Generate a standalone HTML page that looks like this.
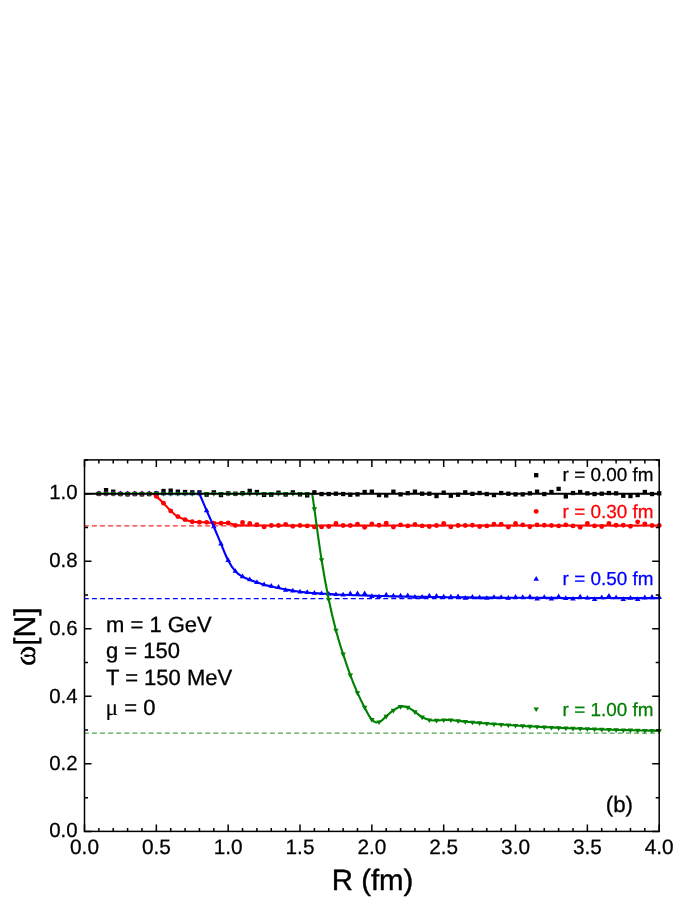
<!DOCTYPE html>
<html><head><meta charset="utf-8"><title>chart</title>
<style>html,body{margin:0;padding:0;background:#fff;}body{width:695px;height:899px;position:relative;overflow:hidden;font-family:"Liberation Sans",sans-serif;}</style></head>
<body>
<svg width="695" height="899" viewBox="0 0 695 899" style="position:absolute;left:0;top:0;will-change:transform" text-rendering="geometricPrecision">
<rect x="0" y="0" width="695" height="899" fill="#fff"/>
<line x1="84.50" y1="525.89" x2="659.20" y2="525.89" stroke="#ff0000" stroke-width="1.3" stroke-dasharray="4.9 3.19" stroke-dashoffset="0.6" stroke-opacity="0.85"/>
<line x1="84.50" y1="598.54" x2="659.20" y2="598.54" stroke="#0000ff" stroke-width="1.3" stroke-dasharray="4.9 3.19" stroke-dashoffset="0.6" stroke-opacity="1.00"/>
<line x1="84.50" y1="733.11" x2="659.20" y2="733.11" stroke="#008000" stroke-width="1.3" stroke-dasharray="4.9 3.19" stroke-dashoffset="0.6" stroke-opacity="0.70"/>
<rect x="96.72" y="491.55" width="4.30" height="4.30" fill="#000"/>
<rect x="103.90" y="488.01" width="4.30" height="4.30" fill="#000"/>
<rect x="111.08" y="489.53" width="4.30" height="4.30" fill="#000"/>
<rect x="118.27" y="491.89" width="4.30" height="4.30" fill="#000"/>
<rect x="125.45" y="492.22" width="4.30" height="4.30" fill="#000"/>
<rect x="132.64" y="491.89" width="4.30" height="4.30" fill="#000"/>
<rect x="139.82" y="492.22" width="4.30" height="4.30" fill="#000"/>
<rect x="147.00" y="491.89" width="4.30" height="4.30" fill="#000"/>
<rect x="154.19" y="491.21" width="4.30" height="4.30" fill="#000"/>
<rect x="161.37" y="488.85" width="4.30" height="4.30" fill="#000"/>
<rect x="168.55" y="488.52" width="4.30" height="4.30" fill="#000"/>
<rect x="175.74" y="489.53" width="4.30" height="4.30" fill="#000"/>
<rect x="182.92" y="489.86" width="4.30" height="4.30" fill="#000"/>
<rect x="190.11" y="490.20" width="4.30" height="4.30" fill="#000"/>
<rect x="197.29" y="490.20" width="4.30" height="4.30" fill="#000"/>
<rect x="204.47" y="492.56" width="4.30" height="4.30" fill="#000"/>
<rect x="211.66" y="490.20" width="4.30" height="4.30" fill="#000"/>
<rect x="218.84" y="492.90" width="4.30" height="4.30" fill="#000"/>
<rect x="226.03" y="491.21" width="4.30" height="4.30" fill="#000"/>
<rect x="233.21" y="491.55" width="4.30" height="4.30" fill="#000"/>
<rect x="240.39" y="491.04" width="4.30" height="4.30" fill="#000"/>
<rect x="247.58" y="488.75" width="4.30" height="4.30" fill="#000"/>
<rect x="254.76" y="489.86" width="4.30" height="4.30" fill="#000"/>
<rect x="261.94" y="492.76" width="4.30" height="4.30" fill="#000"/>
<rect x="269.13" y="492.56" width="4.30" height="4.30" fill="#000"/>
<rect x="276.31" y="490.54" width="4.30" height="4.30" fill="#000"/>
<rect x="283.50" y="492.39" width="4.30" height="4.30" fill="#000"/>
<rect x="290.68" y="490.20" width="4.30" height="4.30" fill="#000"/>
<rect x="297.86" y="492.22" width="4.30" height="4.30" fill="#000"/>
<rect x="305.05" y="493.24" width="4.30" height="4.30" fill="#000"/>
<rect x="312.23" y="490.20" width="4.30" height="4.30" fill="#000"/>
<rect x="319.41" y="491.89" width="4.30" height="4.30" fill="#000"/>
<rect x="326.60" y="491.89" width="4.30" height="4.30" fill="#000"/>
<rect x="333.78" y="491.55" width="4.30" height="4.30" fill="#000"/>
<rect x="340.97" y="491.89" width="4.30" height="4.30" fill="#000"/>
<rect x="348.15" y="492.56" width="4.30" height="4.30" fill="#000"/>
<rect x="355.33" y="492.22" width="4.30" height="4.30" fill="#000"/>
<rect x="362.52" y="489.86" width="4.30" height="4.30" fill="#000"/>
<rect x="369.70" y="489.53" width="4.30" height="4.30" fill="#000"/>
<rect x="376.88" y="492.90" width="4.30" height="4.30" fill="#000"/>
<rect x="384.07" y="493.24" width="4.30" height="4.30" fill="#000"/>
<rect x="391.25" y="489.53" width="4.30" height="4.30" fill="#000"/>
<rect x="398.44" y="492.22" width="4.30" height="4.30" fill="#000"/>
<rect x="405.62" y="491.04" width="4.30" height="4.30" fill="#000"/>
<rect x="412.80" y="489.53" width="4.30" height="4.30" fill="#000"/>
<rect x="419.99" y="491.55" width="4.30" height="4.30" fill="#000"/>
<rect x="427.17" y="491.55" width="4.30" height="4.30" fill="#000"/>
<rect x="434.35" y="493.91" width="4.30" height="4.30" fill="#000"/>
<rect x="441.54" y="490.54" width="4.30" height="4.30" fill="#000"/>
<rect x="448.72" y="493.57" width="4.30" height="4.30" fill="#000"/>
<rect x="455.91" y="492.56" width="4.30" height="4.30" fill="#000"/>
<rect x="463.09" y="490.20" width="4.30" height="4.30" fill="#000"/>
<rect x="470.27" y="491.72" width="4.30" height="4.30" fill="#000"/>
<rect x="477.46" y="490.88" width="4.30" height="4.30" fill="#000"/>
<rect x="484.64" y="491.89" width="4.30" height="4.30" fill="#000"/>
<rect x="491.82" y="492.90" width="4.30" height="4.30" fill="#000"/>
<rect x="499.01" y="490.88" width="4.30" height="4.30" fill="#000"/>
<rect x="506.19" y="491.55" width="4.30" height="4.30" fill="#000"/>
<rect x="513.38" y="492.22" width="4.30" height="4.30" fill="#000"/>
<rect x="520.56" y="492.22" width="4.30" height="4.30" fill="#000"/>
<rect x="527.74" y="491.21" width="4.30" height="4.30" fill="#000"/>
<rect x="534.93" y="489.53" width="4.30" height="4.30" fill="#000"/>
<rect x="542.11" y="491.89" width="4.30" height="4.30" fill="#000"/>
<rect x="549.29" y="489.86" width="4.30" height="4.30" fill="#000"/>
<rect x="556.48" y="486.73" width="4.30" height="4.30" fill="#000"/>
<rect x="563.66" y="494.25" width="4.30" height="4.30" fill="#000"/>
<rect x="570.85" y="490.88" width="4.30" height="4.30" fill="#000"/>
<rect x="578.03" y="489.86" width="4.30" height="4.30" fill="#000"/>
<rect x="585.21" y="491.21" width="4.30" height="4.30" fill="#000"/>
<rect x="592.40" y="491.89" width="4.30" height="4.30" fill="#000"/>
<rect x="599.58" y="491.55" width="4.30" height="4.30" fill="#000"/>
<rect x="606.76" y="490.88" width="4.30" height="4.30" fill="#000"/>
<rect x="613.95" y="491.21" width="4.30" height="4.30" fill="#000"/>
<rect x="621.13" y="493.57" width="4.30" height="4.30" fill="#000"/>
<rect x="628.32" y="493.91" width="4.30" height="4.30" fill="#000"/>
<rect x="635.50" y="492.90" width="4.30" height="4.30" fill="#000"/>
<rect x="642.68" y="489.86" width="4.30" height="4.30" fill="#000"/>
<rect x="649.87" y="491.89" width="4.30" height="4.30" fill="#000"/>
<rect x="657.05" y="491.21" width="4.30" height="4.30" fill="#000"/>
<circle cx="98.87" cy="493.70" r="2.45" fill="#ff0000"/>
<circle cx="106.05" cy="493.70" r="2.45" fill="#ff0000"/>
<circle cx="113.23" cy="493.70" r="2.45" fill="#ff0000"/>
<circle cx="120.42" cy="493.70" r="2.45" fill="#ff0000"/>
<circle cx="127.60" cy="493.70" r="2.45" fill="#ff0000"/>
<circle cx="134.79" cy="493.70" r="2.45" fill="#ff0000"/>
<circle cx="141.97" cy="493.70" r="2.45" fill="#ff0000"/>
<circle cx="149.15" cy="493.70" r="2.45" fill="#ff0000"/>
<circle cx="156.34" cy="496.40" r="2.45" fill="#ff0000"/>
<circle cx="163.52" cy="503.14" r="2.45" fill="#ff0000"/>
<circle cx="170.70" cy="510.89" r="2.45" fill="#ff0000"/>
<circle cx="177.89" cy="516.62" r="2.45" fill="#ff0000"/>
<circle cx="185.07" cy="519.66" r="2.45" fill="#ff0000"/>
<circle cx="192.26" cy="521.68" r="2.45" fill="#ff0000"/>
<circle cx="199.44" cy="522.18" r="2.45" fill="#ff0000"/>
<circle cx="206.62" cy="522.35" r="2.45" fill="#ff0000"/>
<circle cx="213.81" cy="523.20" r="2.45" fill="#ff0000"/>
<circle cx="220.99" cy="523.20" r="2.45" fill="#ff0000"/>
<circle cx="228.18" cy="523.03" r="2.45" fill="#ff0000"/>
<circle cx="235.36" cy="525.39" r="2.45" fill="#ff0000"/>
<circle cx="242.54" cy="522.45" r="2.45" fill="#ff0000"/>
<circle cx="249.73" cy="523.53" r="2.45" fill="#ff0000"/>
<circle cx="256.91" cy="524.68" r="2.45" fill="#ff0000"/>
<circle cx="264.09" cy="526.90" r="2.45" fill="#ff0000"/>
<circle cx="271.28" cy="525.56" r="2.45" fill="#ff0000"/>
<circle cx="278.46" cy="525.56" r="2.45" fill="#ff0000"/>
<circle cx="285.64" cy="524.34" r="2.45" fill="#ff0000"/>
<circle cx="292.83" cy="526.23" r="2.45" fill="#ff0000"/>
<circle cx="300.01" cy="525.56" r="2.45" fill="#ff0000"/>
<circle cx="307.20" cy="525.89" r="2.45" fill="#ff0000"/>
<circle cx="314.38" cy="526.90" r="2.45" fill="#ff0000"/>
<circle cx="321.56" cy="526.90" r="2.45" fill="#ff0000"/>
<circle cx="328.75" cy="526.57" r="2.45" fill="#ff0000"/>
<circle cx="335.93" cy="523.53" r="2.45" fill="#ff0000"/>
<circle cx="343.12" cy="525.56" r="2.45" fill="#ff0000"/>
<circle cx="350.30" cy="525.56" r="2.45" fill="#ff0000"/>
<circle cx="357.48" cy="524.21" r="2.45" fill="#ff0000"/>
<circle cx="364.67" cy="527.24" r="2.45" fill="#ff0000"/>
<circle cx="371.85" cy="523.87" r="2.45" fill="#ff0000"/>
<circle cx="379.03" cy="525.22" r="2.45" fill="#ff0000"/>
<circle cx="386.22" cy="523.20" r="2.45" fill="#ff0000"/>
<circle cx="393.40" cy="527.07" r="2.45" fill="#ff0000"/>
<circle cx="400.59" cy="524.88" r="2.45" fill="#ff0000"/>
<circle cx="407.77" cy="525.89" r="2.45" fill="#ff0000"/>
<circle cx="414.95" cy="524.54" r="2.45" fill="#ff0000"/>
<circle cx="422.14" cy="525.89" r="2.45" fill="#ff0000"/>
<circle cx="429.32" cy="526.57" r="2.45" fill="#ff0000"/>
<circle cx="436.50" cy="525.56" r="2.45" fill="#ff0000"/>
<circle cx="443.69" cy="523.53" r="2.45" fill="#ff0000"/>
<circle cx="450.87" cy="526.90" r="2.45" fill="#ff0000"/>
<circle cx="458.06" cy="525.56" r="2.45" fill="#ff0000"/>
<circle cx="465.24" cy="525.56" r="2.45" fill="#ff0000"/>
<circle cx="472.42" cy="525.22" r="2.45" fill="#ff0000"/>
<circle cx="479.61" cy="526.57" r="2.45" fill="#ff0000"/>
<circle cx="486.79" cy="525.89" r="2.45" fill="#ff0000"/>
<circle cx="493.97" cy="524.21" r="2.45" fill="#ff0000"/>
<circle cx="501.16" cy="524.21" r="2.45" fill="#ff0000"/>
<circle cx="508.34" cy="527.07" r="2.45" fill="#ff0000"/>
<circle cx="515.53" cy="523.53" r="2.45" fill="#ff0000"/>
<circle cx="522.71" cy="524.88" r="2.45" fill="#ff0000"/>
<circle cx="529.89" cy="526.74" r="2.45" fill="#ff0000"/>
<circle cx="537.08" cy="524.88" r="2.45" fill="#ff0000"/>
<circle cx="544.26" cy="525.22" r="2.45" fill="#ff0000"/>
<circle cx="551.44" cy="525.56" r="2.45" fill="#ff0000"/>
<circle cx="558.63" cy="525.89" r="2.45" fill="#ff0000"/>
<circle cx="565.81" cy="524.88" r="2.45" fill="#ff0000"/>
<circle cx="573.00" cy="525.89" r="2.45" fill="#ff0000"/>
<circle cx="580.18" cy="527.24" r="2.45" fill="#ff0000"/>
<circle cx="587.36" cy="523.53" r="2.45" fill="#ff0000"/>
<circle cx="594.55" cy="525.89" r="2.45" fill="#ff0000"/>
<circle cx="601.73" cy="526.57" r="2.45" fill="#ff0000"/>
<circle cx="608.91" cy="523.53" r="2.45" fill="#ff0000"/>
<circle cx="616.10" cy="525.22" r="2.45" fill="#ff0000"/>
<circle cx="623.28" cy="525.22" r="2.45" fill="#ff0000"/>
<circle cx="630.47" cy="526.23" r="2.45" fill="#ff0000"/>
<circle cx="637.65" cy="521.85" r="2.45" fill="#ff0000"/>
<circle cx="644.83" cy="523.87" r="2.45" fill="#ff0000"/>
<circle cx="652.02" cy="525.56" r="2.45" fill="#ff0000"/>
<circle cx="659.20" cy="525.56" r="2.45" fill="#ff0000"/>
<path d="M98.87 490.60 L96.12 495.30 L101.62 495.30 Z" fill="#0000ff"/>
<path d="M106.05 490.60 L103.30 495.30 L108.80 495.30 Z" fill="#0000ff"/>
<path d="M113.23 490.60 L110.48 495.30 L115.98 495.30 Z" fill="#0000ff"/>
<path d="M120.42 490.60 L117.67 495.30 L123.17 495.30 Z" fill="#0000ff"/>
<path d="M127.60 490.60 L124.85 495.30 L130.35 495.30 Z" fill="#0000ff"/>
<path d="M134.79 490.60 L132.04 495.30 L137.54 495.30 Z" fill="#0000ff"/>
<path d="M141.97 490.60 L139.22 495.30 L144.72 495.30 Z" fill="#0000ff"/>
<path d="M149.15 490.60 L146.40 495.30 L151.90 495.30 Z" fill="#0000ff"/>
<path d="M156.34 490.60 L153.59 495.30 L159.09 495.30 Z" fill="#0000ff"/>
<path d="M163.52 490.60 L160.77 495.30 L166.27 495.30 Z" fill="#0000ff"/>
<path d="M170.70 490.60 L167.95 495.30 L173.45 495.30 Z" fill="#0000ff"/>
<path d="M177.89 490.60 L175.14 495.30 L180.64 495.30 Z" fill="#0000ff"/>
<path d="M185.07 490.60 L182.32 495.30 L187.82 495.30 Z" fill="#0000ff"/>
<path d="M192.26 490.60 L189.51 495.30 L195.01 495.30 Z" fill="#0000ff"/>
<path d="M199.44 490.60 L196.69 495.30 L202.19 495.30 Z" fill="#0000ff"/>
<path d="M206.62 507.45 L203.87 512.15 L209.37 512.15 Z" fill="#0000ff"/>
<path d="M213.81 523.64 L211.06 528.34 L216.56 528.34 Z" fill="#0000ff"/>
<path d="M220.99 540.83 L218.24 545.53 L223.74 545.53 Z" fill="#0000ff"/>
<path d="M228.18 557.35 L225.43 562.05 L230.93 562.05 Z" fill="#0000ff"/>
<path d="M235.36 568.13 L232.61 572.83 L238.11 572.83 Z" fill="#0000ff"/>
<path d="M242.54 573.53 L239.79 578.23 L245.29 578.23 Z" fill="#0000ff"/>
<path d="M249.73 576.56 L246.98 581.26 L252.48 581.26 Z" fill="#0000ff"/>
<path d="M256.91 579.26 L254.16 583.96 L259.66 583.96 Z" fill="#0000ff"/>
<path d="M264.09 581.62 L261.34 586.32 L266.84 586.32 Z" fill="#0000ff"/>
<path d="M271.28 582.97 L268.53 587.67 L274.03 587.67 Z" fill="#0000ff"/>
<path d="M278.46 583.98 L275.71 588.68 L281.21 588.68 Z" fill="#0000ff"/>
<path d="M285.64 587.01 L282.89 591.71 L288.39 591.71 Z" fill="#0000ff"/>
<path d="M292.83 587.68 L290.08 592.38 L295.58 592.38 Z" fill="#0000ff"/>
<path d="M300.01 588.70 L297.26 593.40 L302.76 593.40 Z" fill="#0000ff"/>
<path d="M307.20 589.37 L304.45 594.07 L309.95 594.07 Z" fill="#0000ff"/>
<path d="M314.38 590.04 L311.63 594.74 L317.13 594.74 Z" fill="#0000ff"/>
<path d="M321.56 590.38 L318.81 595.08 L324.31 595.08 Z" fill="#0000ff"/>
<path d="M328.75 590.89 L326.00 595.59 L331.50 595.59 Z" fill="#0000ff"/>
<path d="M335.93 591.39 L333.18 596.09 L338.68 596.09 Z" fill="#0000ff"/>
<path d="M343.12 591.86 L340.37 596.56 L345.87 596.56 Z" fill="#0000ff"/>
<path d="M350.30 590.61 L347.55 595.31 L353.05 595.31 Z" fill="#0000ff"/>
<path d="M357.48 590.53 L354.73 595.23 L360.23 595.23 Z" fill="#0000ff"/>
<path d="M364.67 590.42 L361.92 595.12 L367.42 595.12 Z" fill="#0000ff"/>
<path d="M371.85 593.33 L369.10 598.03 L374.60 598.03 Z" fill="#0000ff"/>
<path d="M379.03 593.53 L376.28 598.23 L381.78 598.23 Z" fill="#0000ff"/>
<path d="M386.22 591.68 L383.47 596.38 L388.97 596.38 Z" fill="#0000ff"/>
<path d="M393.40 592.86 L390.65 597.56 L396.15 597.56 Z" fill="#0000ff"/>
<path d="M400.59 592.68 L397.84 597.38 L403.34 597.38 Z" fill="#0000ff"/>
<path d="M407.77 592.48 L405.02 597.18 L410.52 597.18 Z" fill="#0000ff"/>
<path d="M414.95 593.96 L412.20 598.66 L417.70 598.66 Z" fill="#0000ff"/>
<path d="M422.14 594.07 L419.39 598.77 L424.89 598.77 Z" fill="#0000ff"/>
<path d="M429.32 592.83 L426.57 597.53 L432.07 597.53 Z" fill="#0000ff"/>
<path d="M436.50 592.93 L433.75 597.63 L439.25 597.63 Z" fill="#0000ff"/>
<path d="M443.69 593.70 L440.94 598.40 L446.44 598.40 Z" fill="#0000ff"/>
<path d="M450.87 593.79 L448.12 598.49 L453.62 598.49 Z" fill="#0000ff"/>
<path d="M458.06 593.53 L455.31 598.23 L460.81 598.23 Z" fill="#0000ff"/>
<path d="M465.24 594.95 L462.49 599.65 L467.99 599.65 Z" fill="#0000ff"/>
<path d="M472.42 594.00 L469.67 598.70 L475.17 598.70 Z" fill="#0000ff"/>
<path d="M479.61 594.57 L476.86 599.27 L482.36 599.27 Z" fill="#0000ff"/>
<path d="M486.79 595.13 L484.04 599.83 L489.54 599.83 Z" fill="#0000ff"/>
<path d="M493.97 594.17 L491.22 598.87 L496.72 598.87 Z" fill="#0000ff"/>
<path d="M501.16 594.22 L498.41 598.92 L503.91 598.92 Z" fill="#0000ff"/>
<path d="M508.34 594.94 L505.59 599.64 L511.09 599.64 Z" fill="#0000ff"/>
<path d="M515.53 593.97 L512.78 598.67 L518.28 598.67 Z" fill="#0000ff"/>
<path d="M522.71 594.34 L519.96 599.04 L525.46 599.04 Z" fill="#0000ff"/>
<path d="M529.89 593.70 L527.14 598.40 L532.64 598.40 Z" fill="#0000ff"/>
<path d="M537.08 595.75 L534.33 600.45 L539.83 600.45 Z" fill="#0000ff"/>
<path d="M544.26 594.26 L541.51 598.96 L547.01 598.96 Z" fill="#0000ff"/>
<path d="M551.44 595.81 L548.69 600.51 L554.19 600.51 Z" fill="#0000ff"/>
<path d="M558.63 593.47 L555.88 598.17 L561.38 598.17 Z" fill="#0000ff"/>
<path d="M565.81 595.18 L563.06 599.88 L568.56 599.88 Z" fill="#0000ff"/>
<path d="M573.00 595.88 L570.25 600.58 L575.75 600.58 Z" fill="#0000ff"/>
<path d="M580.18 593.87 L577.43 598.57 L582.93 598.57 Z" fill="#0000ff"/>
<path d="M587.36 594.90 L584.61 599.60 L590.11 599.60 Z" fill="#0000ff"/>
<path d="M594.55 596.26 L591.80 600.96 L597.30 600.96 Z" fill="#0000ff"/>
<path d="M601.73 594.43 L598.98 599.13 L604.48 599.13 Z" fill="#0000ff"/>
<path d="M608.91 592.92 L606.16 597.62 L611.66 597.62 Z" fill="#0000ff"/>
<path d="M616.10 594.45 L613.35 599.15 L618.85 599.15 Z" fill="#0000ff"/>
<path d="M623.28 596.32 L620.53 601.02 L626.03 601.02 Z" fill="#0000ff"/>
<path d="M630.47 594.98 L627.72 599.68 L633.22 599.68 Z" fill="#0000ff"/>
<path d="M637.65 596.34 L634.90 601.04 L640.40 601.04 Z" fill="#0000ff"/>
<path d="M644.83 594.49 L642.08 599.19 L647.58 599.19 Z" fill="#0000ff"/>
<path d="M652.02 593.99 L649.27 598.69 L654.77 598.69 Z" fill="#0000ff"/>
<path d="M659.20 594.34 L656.45 599.04 L661.95 599.04 Z" fill="#0000ff"/>
<path d="M98.87 496.80 L96.12 492.10 L101.62 492.10 Z" fill="#008000"/>
<path d="M106.05 496.80 L103.30 492.10 L108.80 492.10 Z" fill="#008000"/>
<path d="M113.23 496.80 L110.48 492.10 L115.98 492.10 Z" fill="#008000"/>
<path d="M120.42 496.80 L117.67 492.10 L123.17 492.10 Z" fill="#008000"/>
<path d="M127.60 496.80 L124.85 492.10 L130.35 492.10 Z" fill="#008000"/>
<path d="M134.79 496.80 L132.04 492.10 L137.54 492.10 Z" fill="#008000"/>
<path d="M141.97 496.80 L139.22 492.10 L144.72 492.10 Z" fill="#008000"/>
<path d="M149.15 496.80 L146.40 492.10 L151.90 492.10 Z" fill="#008000"/>
<path d="M156.34 496.80 L153.59 492.10 L159.09 492.10 Z" fill="#008000"/>
<path d="M163.52 496.80 L160.77 492.10 L166.27 492.10 Z" fill="#008000"/>
<path d="M170.70 496.80 L167.95 492.10 L173.45 492.10 Z" fill="#008000"/>
<path d="M177.89 496.80 L175.14 492.10 L180.64 492.10 Z" fill="#008000"/>
<path d="M185.07 496.80 L182.32 492.10 L187.82 492.10 Z" fill="#008000"/>
<path d="M192.26 496.80 L189.51 492.10 L195.01 492.10 Z" fill="#008000"/>
<path d="M199.44 496.80 L196.69 492.10 L202.19 492.10 Z" fill="#008000"/>
<path d="M206.62 496.80 L203.87 492.10 L209.37 492.10 Z" fill="#008000"/>
<path d="M213.81 496.80 L211.06 492.10 L216.56 492.10 Z" fill="#008000"/>
<path d="M220.99 496.80 L218.24 492.10 L223.74 492.10 Z" fill="#008000"/>
<path d="M228.18 496.80 L225.43 492.10 L230.93 492.10 Z" fill="#008000"/>
<path d="M235.36 496.80 L232.61 492.10 L238.11 492.10 Z" fill="#008000"/>
<path d="M242.54 496.80 L239.79 492.10 L245.29 492.10 Z" fill="#008000"/>
<path d="M249.73 496.80 L246.98 492.10 L252.48 492.10 Z" fill="#008000"/>
<path d="M256.91 496.80 L254.16 492.10 L259.66 492.10 Z" fill="#008000"/>
<path d="M264.09 496.80 L261.34 492.10 L266.84 492.10 Z" fill="#008000"/>
<path d="M271.28 496.80 L268.53 492.10 L274.03 492.10 Z" fill="#008000"/>
<path d="M278.46 496.80 L275.71 492.10 L281.21 492.10 Z" fill="#008000"/>
<path d="M285.64 496.80 L282.89 492.10 L288.39 492.10 Z" fill="#008000"/>
<path d="M292.83 496.80 L290.08 492.10 L295.58 492.10 Z" fill="#008000"/>
<path d="M300.01 496.80 L297.26 492.10 L302.76 492.10 Z" fill="#008000"/>
<path d="M307.20 496.80 L304.45 492.10 L309.95 492.10 Z" fill="#008000"/>
<path d="M314.38 511.97 L311.63 507.27 L317.13 507.27 Z" fill="#008000"/>
<path d="M321.56 562.87 L318.81 558.17 L324.31 558.17 Z" fill="#008000"/>
<path d="M328.75 602.65 L326.00 597.95 L331.50 597.95 Z" fill="#008000"/>
<path d="M335.93 633.33 L333.18 628.63 L338.68 628.63 Z" fill="#008000"/>
<path d="M343.12 657.26 L340.37 652.56 L345.87 652.56 Z" fill="#008000"/>
<path d="M350.30 678.16 L347.55 673.46 L353.05 673.46 Z" fill="#008000"/>
<path d="M357.48 696.03 L354.73 691.33 L360.23 691.33 Z" fill="#008000"/>
<path d="M364.67 710.52 L361.92 705.82 L367.42 705.82 Z" fill="#008000"/>
<path d="M371.85 722.66 L369.10 717.96 L374.60 717.96 Z" fill="#008000"/>
<path d="M379.03 725.12 L376.28 720.42 L381.78 720.42 Z" fill="#008000"/>
<path d="M386.22 719.39 L383.47 714.69 L388.97 714.69 Z" fill="#008000"/>
<path d="M393.40 713.56 L390.65 708.86 L396.15 708.86 Z" fill="#008000"/>
<path d="M400.59 709.71 L397.84 705.01 L403.34 705.01 Z" fill="#008000"/>
<path d="M407.77 710.52 L405.02 705.82 L410.52 705.82 Z" fill="#008000"/>
<path d="M414.95 714.90 L412.20 710.20 L417.70 710.20 Z" fill="#008000"/>
<path d="M422.14 720.30 L419.39 715.60 L424.89 715.60 Z" fill="#008000"/>
<path d="M429.32 723.10 L426.57 718.40 L432.07 718.40 Z" fill="#008000"/>
<path d="M436.50 723.50 L433.75 718.80 L439.25 718.80 Z" fill="#008000"/>
<path d="M443.69 723.10 L440.94 718.40 L446.44 718.40 Z" fill="#008000"/>
<path d="M450.87 723.10 L448.12 718.40 L453.62 718.40 Z" fill="#008000"/>
<path d="M458.06 724.01 L455.31 719.31 L460.81 719.31 Z" fill="#008000"/>
<path d="M465.24 724.71 L462.49 720.01 L467.99 720.01 Z" fill="#008000"/>
<path d="M472.42 725.37 L469.67 720.67 L475.17 720.67 Z" fill="#008000"/>
<path d="M479.61 726.00 L476.86 721.30 L482.36 721.30 Z" fill="#008000"/>
<path d="M486.79 726.59 L484.04 721.89 L489.54 721.89 Z" fill="#008000"/>
<path d="M493.97 727.14 L491.22 722.44 L496.72 722.44 Z" fill="#008000"/>
<path d="M501.16 727.66 L498.41 722.96 L503.91 722.96 Z" fill="#008000"/>
<path d="M508.34 728.16 L505.59 723.46 L511.09 723.46 Z" fill="#008000"/>
<path d="M515.53 728.62 L512.78 723.92 L518.28 723.92 Z" fill="#008000"/>
<path d="M522.71 729.06 L519.96 724.36 L525.46 724.36 Z" fill="#008000"/>
<path d="M529.89 729.48 L527.14 724.78 L532.64 724.78 Z" fill="#008000"/>
<path d="M537.08 729.87 L534.33 725.17 L539.83 725.17 Z" fill="#008000"/>
<path d="M544.26 730.24 L541.51 725.54 L547.01 725.54 Z" fill="#008000"/>
<path d="M551.44 730.58 L548.69 725.88 L554.19 725.88 Z" fill="#008000"/>
<path d="M558.63 730.91 L555.88 726.21 L561.38 726.21 Z" fill="#008000"/>
<path d="M565.81 731.22 L563.06 726.52 L568.56 726.52 Z" fill="#008000"/>
<path d="M573.00 731.51 L570.25 726.81 L575.75 726.81 Z" fill="#008000"/>
<path d="M580.18 731.78 L577.43 727.08 L582.93 727.08 Z" fill="#008000"/>
<path d="M587.36 732.04 L584.61 727.34 L590.11 727.34 Z" fill="#008000"/>
<path d="M594.55 732.29 L591.80 727.59 L597.30 727.59 Z" fill="#008000"/>
<path d="M601.73 732.52 L598.98 727.82 L604.48 727.82 Z" fill="#008000"/>
<path d="M608.91 732.73 L606.16 728.03 L611.66 728.03 Z" fill="#008000"/>
<path d="M616.10 732.94 L613.35 728.24 L618.85 728.24 Z" fill="#008000"/>
<path d="M623.28 733.13 L620.53 728.43 L626.03 728.43 Z" fill="#008000"/>
<path d="M630.47 733.31 L627.72 728.61 L633.22 728.61 Z" fill="#008000"/>
<path d="M637.65 733.48 L634.90 728.78 L640.40 728.78 Z" fill="#008000"/>
<path d="M644.83 733.64 L642.08 728.94 L647.58 728.94 Z" fill="#008000"/>
<path d="M652.02 733.80 L649.27 729.10 L654.77 729.10 Z" fill="#008000"/>
<path d="M659.20 733.94 L656.45 729.24 L661.95 729.24 Z" fill="#008000"/>
<path d="M153.18 493.70 C153.70 494.15 154.61 494.82 156.34 496.40 C158.06 497.97 161.13 500.72 163.52 503.14 C165.92 505.55 168.31 508.64 170.70 510.89 C173.10 513.14 175.49 515.16 177.89 516.62 C180.28 518.08 182.68 518.81 185.07 519.66 C187.47 520.50 189.86 521.26 192.26 521.68 C194.65 522.10 197.05 522.07 199.44 522.18 C201.83 522.30 204.23 522.18 206.62 522.35 C209.02 522.52 211.41 523.06 213.81 523.20 C216.20 523.34 218.60 523.22 220.99 523.20 C223.39 523.17 225.78 522.72 228.18 523.03 C230.57 523.34 232.96 524.66 235.36 525.05 C237.75 525.44 240.15 525.30 242.54 525.39 C244.94 525.47 247.33 525.53 249.73 525.56 C252.12 525.58 254.52 525.56 256.91 525.56 C259.30 525.56 261.70 525.56 264.09 525.56 C266.49 525.56 268.88 525.56 271.28 525.56 C273.67 525.56 276.07 525.56 278.46 525.56 C280.86 525.56 283.25 525.56 285.64 525.56 C288.04 525.56 290.43 525.56 292.83 525.56 C295.22 525.56 297.62 525.56 300.01 525.56 C302.41 525.56 304.80 525.56 307.20 525.56 C309.59 525.56 311.99 525.56 314.38 525.56 C316.77 525.56 319.17 525.56 321.56 525.56 C323.96 525.56 326.35 525.56 328.75 525.56 C331.14 525.56 333.54 525.56 335.93 525.56 C338.33 525.56 340.72 525.56 343.12 525.56 C345.51 525.56 347.90 525.56 350.30 525.56 C352.69 525.56 355.09 525.56 357.48 525.56 C359.88 525.56 362.27 525.56 364.67 525.56 C367.06 525.56 369.46 525.56 371.85 525.56 C374.24 525.56 376.64 525.56 379.03 525.56 C381.43 525.56 383.82 525.56 386.22 525.56 C388.61 525.56 391.01 525.56 393.40 525.56 C395.80 525.56 398.19 525.56 400.59 525.56 C402.98 525.56 405.37 525.56 407.77 525.56 C410.16 525.56 412.56 525.56 414.95 525.56 C417.35 525.56 419.74 525.56 422.14 525.56 C424.53 525.56 426.93 525.56 429.32 525.56 C431.71 525.56 434.11 525.56 436.50 525.56 C438.90 525.56 441.29 525.56 443.69 525.56 C446.08 525.56 448.48 525.56 450.87 525.56 C453.27 525.56 455.66 525.56 458.06 525.56 C460.45 525.56 462.84 525.56 465.24 525.56 C467.63 525.56 470.03 525.56 472.42 525.56 C474.82 525.56 477.21 525.56 479.61 525.56 C482.00 525.56 484.40 525.56 486.79 525.56 C489.18 525.56 491.58 525.56 493.97 525.56 C496.37 525.56 498.76 525.56 501.16 525.56 C503.55 525.56 505.95 525.56 508.34 525.56 C510.74 525.56 513.13 525.56 515.53 525.56 C517.92 525.56 520.31 525.56 522.71 525.56 C525.10 525.56 527.50 525.56 529.89 525.56 C532.29 525.56 534.68 525.56 537.08 525.56 C539.47 525.56 541.87 525.56 544.26 525.56 C546.65 525.56 549.05 525.56 551.44 525.56 C553.84 525.56 556.23 525.56 558.63 525.56 C561.02 525.56 563.42 525.56 565.81 525.56 C568.21 525.56 570.60 525.56 573.00 525.56 C575.39 525.56 577.78 525.56 580.18 525.56 C582.57 525.56 584.97 525.56 587.36 525.56 C589.76 525.56 592.15 525.56 594.55 525.56 C596.94 525.56 599.34 525.56 601.73 525.56 C604.12 525.56 606.52 525.56 608.91 525.56 C611.31 525.56 613.70 525.56 616.10 525.56 C618.49 525.56 620.89 525.56 623.28 525.56 C625.68 525.56 628.07 525.56 630.47 525.56 C632.86 525.56 635.25 525.56 637.65 525.56 C640.04 525.56 642.44 525.56 644.83 525.56 C647.23 525.56 649.62 525.56 652.02 525.56 C654.41 525.56 658.00 525.56 659.20 525.56" fill="none" stroke="#ff0000" stroke-width="2.10" stroke-linejoin="round"/>
<path d="M198.72 493.70 C198.84 493.70 198.12 490.89 199.44 493.70 C200.76 496.51 204.23 505.05 206.62 510.55 C209.02 516.06 211.41 521.17 213.81 526.74 C216.20 532.30 218.60 538.31 220.99 543.93 C223.39 549.55 225.78 555.89 228.18 560.45 C230.57 565.00 232.96 568.54 235.36 571.23 C237.75 573.93 240.15 575.22 242.54 576.63 C244.94 578.03 247.33 578.71 249.73 579.66 C252.12 580.62 254.52 581.51 256.91 582.36 C259.30 583.20 261.70 584.04 264.09 584.72 C266.49 585.39 268.88 585.84 271.28 586.40 C273.67 586.96 276.07 587.58 278.46 588.09 C280.86 588.59 283.25 588.99 285.64 589.44 C288.04 589.89 290.43 590.39 292.83 590.78 C295.22 591.18 297.62 591.52 300.01 591.80 C302.41 592.08 304.80 592.25 307.20 592.47 C309.59 592.70 311.99 592.98 314.38 593.14 C316.77 593.31 319.17 593.34 321.56 593.48 C323.96 593.62 326.35 593.82 328.75 593.99 C331.14 594.16 333.54 594.36 335.93 594.49 C338.33 594.63 340.72 594.69 343.12 594.79 C345.51 594.88 347.90 594.97 350.30 595.06 C352.69 595.15 355.09 595.23 357.48 595.31 C359.88 595.39 362.27 595.47 364.67 595.54 C367.06 595.62 369.46 595.69 371.85 595.76 C374.24 595.82 376.64 595.89 379.03 595.95 C381.43 596.01 383.82 596.07 386.22 596.13 C388.61 596.19 391.01 596.24 393.40 596.30 C395.80 596.35 398.19 596.40 400.59 596.45 C402.98 596.50 405.37 596.54 407.77 596.59 C410.16 596.63 412.56 596.68 414.95 596.72 C417.35 596.76 419.74 596.80 422.14 596.84 C424.53 596.87 426.93 596.91 429.32 596.95 C431.71 596.98 434.11 597.01 436.50 597.05 C438.90 597.08 441.29 597.11 443.69 597.14 C446.08 597.17 448.48 597.20 450.87 597.22 C453.27 597.25 455.66 597.28 458.06 597.30 C460.45 597.33 462.84 597.35 465.24 597.37 C467.63 597.40 470.03 597.42 472.42 597.44 C474.82 597.46 477.21 597.48 479.61 597.50 C482.00 597.52 484.40 597.54 486.79 597.56 C489.18 597.57 491.58 597.59 493.97 597.61 C496.37 597.62 498.76 597.64 501.16 597.66 C503.55 597.67 505.95 597.69 508.34 597.70 C510.74 597.71 513.13 597.73 515.53 597.74 C517.92 597.75 520.31 597.76 522.71 597.78 C525.10 597.79 527.50 597.80 529.89 597.81 C532.29 597.82 534.68 597.83 537.08 597.84 C539.47 597.85 541.87 597.86 544.26 597.87 C546.65 597.88 549.05 597.89 551.44 597.90 C553.84 597.91 556.23 597.91 558.63 597.92 C561.02 597.93 563.42 597.94 565.81 597.94 C568.21 597.95 570.60 597.96 573.00 597.96 C575.39 597.97 577.78 597.98 580.18 597.98 C582.57 597.99 584.97 597.99 587.36 598.00 C589.76 598.01 592.15 598.01 594.55 598.02 C596.94 598.02 599.34 598.03 601.73 598.03 C604.12 598.04 606.52 598.04 608.91 598.04 C611.31 598.05 613.70 598.05 616.10 598.06 C618.49 598.06 620.89 598.07 623.28 598.07 C625.68 598.07 628.07 598.08 630.47 598.08 C632.86 598.08 635.25 598.09 637.65 598.09 C640.04 598.09 642.44 598.10 644.83 598.10 C647.23 598.10 649.62 598.10 652.02 598.11 C654.41 598.11 658.00 598.11 659.20 598.11" fill="none" stroke="#0000ff" stroke-width="2.10" stroke-linejoin="round"/>
<path d="M312.22 493.70 C312.73 497.24 312.20 493.45 314.38 508.87 C316.56 524.29 318.21 538.61 321.56 559.77 C324.92 580.93 325.40 583.11 328.75 599.55 C332.10 615.99 332.58 617.48 335.93 630.23 C339.28 642.97 339.76 643.70 343.12 654.16 C346.47 664.62 346.95 666.01 350.30 675.06 C353.65 684.11 354.13 685.38 357.48 692.93 C360.83 700.48 361.31 701.21 364.67 707.42 C368.02 713.64 368.50 716.15 371.85 719.56 C375.20 722.96 375.68 722.78 379.03 722.02 C382.39 721.25 382.87 718.99 386.22 716.29 C389.57 713.59 390.05 712.71 393.40 710.46 C396.75 708.20 397.23 707.32 400.59 706.61 C403.94 705.90 404.42 706.21 407.77 707.42 C411.12 708.63 411.60 709.52 414.95 711.80 C418.30 714.08 418.78 715.29 422.14 717.20 C425.49 719.11 425.97 719.25 429.32 720.00 C432.67 720.74 433.15 720.40 436.50 720.40 C439.86 720.40 440.34 720.09 443.69 720.00 C447.04 719.90 447.52 719.78 450.87 720.00 C454.22 720.21 454.70 720.53 458.06 720.91 C461.41 721.28 461.89 721.29 465.24 721.61 C468.59 721.93 469.07 721.97 472.42 722.27 C475.77 722.57 476.25 722.61 479.61 722.90 C482.96 723.18 483.44 723.22 486.79 723.49 C490.14 723.75 490.62 723.79 493.97 724.04 C497.33 724.29 497.81 724.33 501.16 724.56 C504.51 724.80 504.99 724.83 508.34 725.06 C511.69 725.28 512.17 725.31 515.53 725.52 C518.88 725.74 519.36 725.76 522.71 725.96 C526.06 726.16 526.54 726.19 529.89 726.38 C533.24 726.56 533.72 726.59 537.08 726.77 C540.43 726.94 540.91 726.97 544.26 727.14 C547.61 727.30 548.09 727.33 551.44 727.48 C554.80 727.64 555.28 727.66 558.63 727.81 C561.98 727.96 562.46 727.98 565.81 728.12 C569.16 728.26 569.64 728.28 573.00 728.41 C576.35 728.54 576.83 728.56 580.18 728.68 C583.53 728.81 584.01 728.82 587.36 728.94 C590.71 729.06 591.19 729.07 594.55 729.19 C597.90 729.30 598.38 729.31 601.73 729.42 C605.08 729.52 605.56 729.53 608.91 729.63 C612.27 729.73 612.75 729.74 616.10 729.84 C619.45 729.93 619.93 729.94 623.28 730.03 C626.63 730.12 627.11 730.13 630.47 730.21 C633.82 730.29 634.30 730.30 637.65 730.38 C641.00 730.46 641.48 730.47 644.83 730.54 C648.18 730.62 648.66 730.63 652.02 730.70 C655.37 730.77 657.52 730.81 659.20 730.84" fill="none" stroke="#008000" stroke-width="2.10" stroke-linejoin="round"/>
<line x1="84.50" y1="493.70" x2="659.20" y2="493.70" stroke="#000" stroke-width="2.10"/>
<rect x="84.50" y="459.90" width="574.70" height="371.50" fill="none" stroke="#000" stroke-width="1.50"/>
<path d="M84.50 831.40v-7.00M84.50 459.90v7.00M98.87 831.40v-3.50M98.87 459.90v3.50M113.23 831.40v-3.50M113.23 459.90v3.50M127.60 831.40v-3.50M127.60 459.90v3.50M141.97 831.40v-3.50M141.97 459.90v3.50M156.34 831.40v-7.00M156.34 459.90v7.00M170.71 831.40v-3.50M170.71 459.90v3.50M185.07 831.40v-3.50M185.07 459.90v3.50M199.44 831.40v-3.50M199.44 459.90v3.50M213.81 831.40v-3.50M213.81 459.90v3.50M228.18 831.40v-7.00M228.18 459.90v7.00M242.54 831.40v-3.50M242.54 459.90v3.50M256.91 831.40v-3.50M256.91 459.90v3.50M271.28 831.40v-3.50M271.28 459.90v3.50M285.65 831.40v-3.50M285.65 459.90v3.50M300.01 831.40v-7.00M300.01 459.90v7.00M314.38 831.40v-3.50M314.38 459.90v3.50M328.75 831.40v-3.50M328.75 459.90v3.50M343.12 831.40v-3.50M343.12 459.90v3.50M357.48 831.40v-3.50M357.48 459.90v3.50M371.85 831.40v-7.00M371.85 459.90v7.00M386.22 831.40v-3.50M386.22 459.90v3.50M400.59 831.40v-3.50M400.59 459.90v3.50M414.95 831.40v-3.50M414.95 459.90v3.50M429.32 831.40v-3.50M429.32 459.90v3.50M443.69 831.40v-7.00M443.69 459.90v7.00M458.06 831.40v-3.50M458.06 459.90v3.50M472.42 831.40v-3.50M472.42 459.90v3.50M486.79 831.40v-3.50M486.79 459.90v3.50M501.16 831.40v-3.50M501.16 459.90v3.50M515.53 831.40v-7.00M515.53 459.90v7.00M529.89 831.40v-3.50M529.89 459.90v3.50M544.26 831.40v-3.50M544.26 459.90v3.50M558.63 831.40v-3.50M558.63 459.90v3.50M573.00 831.40v-3.50M573.00 459.90v3.50M587.36 831.40v-7.00M587.36 459.90v7.00M601.73 831.40v-3.50M601.73 459.90v3.50M616.10 831.40v-3.50M616.10 459.90v3.50M630.47 831.40v-3.50M630.47 459.90v3.50M644.83 831.40v-3.50M644.83 459.90v3.50M659.20 831.40v-7.00M659.20 459.90v7.00M84.50 831.40h7.00M659.20 831.40h-7.00M84.50 797.63h3.50M659.20 797.63h-3.50M84.50 763.85h7.00M659.20 763.85h-7.00M84.50 730.08h3.50M659.20 730.08h-3.50M84.50 696.31h7.00M659.20 696.31h-7.00M84.50 662.54h3.50M659.20 662.54h-3.50M84.50 628.76h7.00M659.20 628.76h-7.00M84.50 594.99h3.50M659.20 594.99h-3.50M84.50 561.22h7.00M659.20 561.22h-7.00M84.50 527.45h3.50M659.20 527.45h-3.50M84.50 493.67h7.00M659.20 493.67h-7.00M84.50 459.90h3.50M659.20 459.90h-3.50" stroke="#000" stroke-width="1.50" fill="none"/>
<text x="84.50" y="854.1" font-family="Liberation Sans, sans-serif" font-size="20.8" text-anchor="middle" stroke="#000" stroke-width="0.25">0.0</text>
<text x="156.34" y="854.1" font-family="Liberation Sans, sans-serif" font-size="20.8" text-anchor="middle" stroke="#000" stroke-width="0.25">0.5</text>
<text x="228.18" y="854.1" font-family="Liberation Sans, sans-serif" font-size="20.8" text-anchor="middle" stroke="#000" stroke-width="0.25">1.0</text>
<text x="300.01" y="854.1" font-family="Liberation Sans, sans-serif" font-size="20.8" text-anchor="middle" stroke="#000" stroke-width="0.25">1.5</text>
<text x="371.85" y="854.1" font-family="Liberation Sans, sans-serif" font-size="20.8" text-anchor="middle" stroke="#000" stroke-width="0.25">2.0</text>
<text x="443.69" y="854.1" font-family="Liberation Sans, sans-serif" font-size="20.8" text-anchor="middle" stroke="#000" stroke-width="0.25">2.5</text>
<text x="515.53" y="854.1" font-family="Liberation Sans, sans-serif" font-size="20.8" text-anchor="middle" stroke="#000" stroke-width="0.25">3.0</text>
<text x="587.36" y="854.1" font-family="Liberation Sans, sans-serif" font-size="20.8" text-anchor="middle" stroke="#000" stroke-width="0.25">3.5</text>
<text x="659.20" y="854.1" font-family="Liberation Sans, sans-serif" font-size="20.8" text-anchor="middle" stroke="#000" stroke-width="0.25">4.0</text>
<text x="77.6" y="837.30" font-family="Liberation Sans, sans-serif" font-size="20.4" text-anchor="end" stroke="#000" stroke-width="0.25">0.0</text>
<text x="77.6" y="769.75" font-family="Liberation Sans, sans-serif" font-size="20.4" text-anchor="end" stroke="#000" stroke-width="0.25">0.2</text>
<text x="77.6" y="702.61" font-family="Liberation Sans, sans-serif" font-size="20.4" text-anchor="end" stroke="#000" stroke-width="0.25">0.4</text>
<text x="77.6" y="634.66" font-family="Liberation Sans, sans-serif" font-size="20.4" text-anchor="end" stroke="#000" stroke-width="0.25">0.6</text>
<text x="77.6" y="567.12" font-family="Liberation Sans, sans-serif" font-size="20.4" text-anchor="end" stroke="#000" stroke-width="0.25">0.8</text>
<text x="77.6" y="499.07" font-family="Liberation Sans, sans-serif" font-size="20.4" text-anchor="end" stroke="#000" stroke-width="0.25">1.0</text>
<text x="372.6" y="889.9" font-family="Liberation Sans, sans-serif" font-size="29.4" text-anchor="middle" stroke="#000" stroke-width="0.4">R (fm)</text>
<text transform="translate(34.8,645.8) rotate(-90)" font-family="Liberation Sans, sans-serif" font-size="30" stroke="#000" stroke-width="0.35">[N]</text>
<g fill="none" stroke="#000" stroke-linecap="round" stroke-linejoin="round"><path d="M21.4 653.7C22.4 650.2 25 648.3 28.5 648.3C32.6 648.3 34.6 650 34.6 652.2C34.6 654 33.6 655.2 32.3 655.6C33.6 656 34.6 657.5 34.6 659.3C34.6 661.5 32.6 663.3 28.5 663.3C25 663.3 22.4 661.4 21.4 657.7" stroke-width="1.7"/><path d="M23.6 650.6C24.8 648.9 26.5 648.1 28.5 648.1C31 648.1 33 648.9 34 650.4" stroke-width="2.7"/><path d="M23.6 661C24.8 662.7 26.5 663.5 28.5 663.5C31 663.5 33 662.7 34 661.2" stroke-width="2.7"/><path d="M32.3 655.6L27 655.7" stroke-width="1.3"/></g><ellipse cx="26.8" cy="655.8" rx="2.8" ry="1.3" fill="#000"/>
<text x="106.0" y="631.7" font-family="Liberation Sans, sans-serif" font-size="22" stroke="#000" stroke-width="0.3">m = 1 GeV</text>
<text x="106.0" y="658.3" font-family="Liberation Sans, sans-serif" font-size="22" stroke="#000" stroke-width="0.3">g = 150</text>
<text x="106.0" y="685.0" font-family="Liberation Sans, sans-serif" font-size="22" stroke="#000" stroke-width="0.3">T = 150 MeV</text>
<text x="105.6" y="714.6" font-family="Liberation Sans, sans-serif" font-size="22" stroke="#000" stroke-width="0.3"><tspan font-family="Liberation Serif, serif" font-size="23.5" stroke-width="0.1">&#956;</tspan> = 0</text>
<text x="605.8" y="812.1" font-family="Liberation Sans, sans-serif" font-size="22.3" stroke="#000" stroke-width="0.3">(b)</text>
<rect x="534.05" y="473.05" width="4.30" height="4.30" fill="#000"/>
<text x="562.6" y="481.20" font-family="Liberation Sans, sans-serif" font-size="18.9" fill="#000" stroke="#000" stroke-width="0.25">r = 0.00 fm</text>
<circle cx="536.20" cy="511.40" r="2.45" fill="#ff0000"/>
<text x="562.6" y="517.85" font-family="Liberation Sans, sans-serif" font-size="18.9" fill="#ff0000" stroke="#ff0000" stroke-width="0.25">r = 0.30 fm</text>
<path d="M536.20 576.00 L533.45 580.70 L538.95 580.70 Z" fill="#0000ff"/>
<text x="562.6" y="585.30" font-family="Liberation Sans, sans-serif" font-size="18.9" fill="#0000ff" stroke="#0000ff" stroke-width="0.25">r = 0.50 fm</text>
<path d="M536.20 712.10 L533.45 707.40 L538.95 707.40 Z" fill="#008000"/>
<text x="562.6" y="715.60" font-family="Liberation Sans, sans-serif" font-size="18.9" fill="#008000" stroke="#008000" stroke-width="0.25">r = 1.00 fm</text>
</svg>
</body></html>
